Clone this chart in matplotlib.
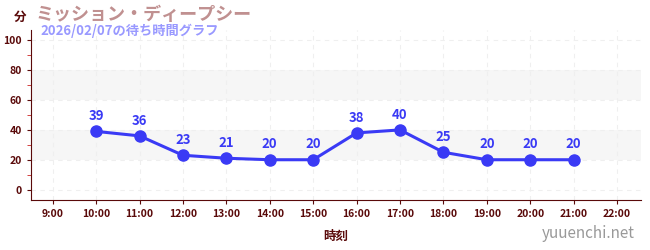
import matplotlib
matplotlib.use("Agg")
import matplotlib.pyplot as plt
from matplotlib.ticker import MultipleLocator

plt.rcParams['font.family'] = ['Noto Sans CJK JP', 'DejaVu Sans']

hours = [10, 11, 12, 13, 14, 15, 16, 17, 18, 19, 20, 21]
waits = [39, 36, 23, 21, 20, 20, 38, 40, 25, 20, 20, 20]
tick_hours = list(range(9, 23))
tick_labels = [f"{h}:00" for h in tick_hours]
title = "ミッション・ディープシー"
subtitle = "2026/02/07の待ち時間グラフ"

dark = "#5a0a0a"
blue = "#3a3af5"

fig = plt.figure(figsize=(6.5, 2.5), dpi=100)
ax = fig.add_axes([31/650, 50/250, 610/650, 170/250])

ax.set_xlim(8.5, 22.55)
ax.set_ylim(-7, 107)

for lo, hi in [(20, 40), (60, 80)]:
    ax.axhspan(lo, hi, color="#f6f6f6", zorder=0, lw=0)

ax.set_xticks(tick_hours)
ax.set_xticklabels(tick_labels)
ax.set_yticks([0, 20, 40, 60, 80, 100])
ax.yaxis.set_minor_locator(MultipleLocator(10))
ax.grid(True, which="major", color="#efefef", linestyle=(0, (4, 4)), lw=0.8, zorder=0)

ax.plot(hours, waits, color=blue, lw=2.2, marker="o", ms=8, zorder=3)
for h, w in zip(hours, waits):
    ax.annotate(str(w), (h, w), xytext=(0, 6), textcoords="offset points",
                ha="center", va="bottom", color=blue, fontsize=9.5, fontweight="bold")

for s in ["top", "right"]:
    ax.spines[s].set_visible(False)
ax.spines["left"].set_color(dark)
ax.spines["bottom"].set_color(dark)
ax.tick_params(axis="both", which="major", colors=dark, labelsize=7.5, length=3)
ax.tick_params(axis="y", which="minor", colors="#cc2222", length=3)
for lab in ax.get_xticklabels() + ax.get_yticklabels():
    lab.set_color(dark)
    lab.set_fontweight("bold")

ax.set_xlabel("時刻", color=dark, fontsize=9, fontweight="bold", labelpad=8)

fig.text(14/650, 1 - 17/250, "分", color=dark, fontsize=9, fontweight="bold", ha="left", va="center")
fig.text(36/650, 1 - 14/250, title, color="#c09090", fontsize=13, fontweight="bold", ha="left", va="center")
fig.text(40/650, 1 - 31/250, subtitle, color="#9999ff", fontsize=9.5, fontweight="bold", ha="left", va="center")
fig.text(635/650, 1 - 234/250, "yuuenchi.net", color="#999999", fontsize=11, ha="right", va="center")

fig.savefig("out.png", dpi=100)
